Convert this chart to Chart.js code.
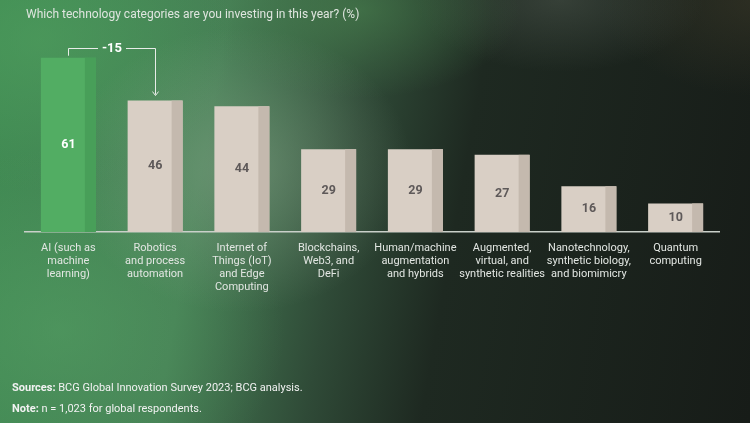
<!DOCTYPE html>
<html>
<head>
<meta charset="utf-8">
<script src="https://cdn.jsdelivr.net/npm/chart.js@4"></script>
<style>
  html, body { margin: 0; padding: 0; }
  #wrap {
    position: relative;
    width: 750px;
    height: 423px;
    overflow: hidden;
    font-family: Roboto, "Noto Sans", sans-serif;
    background:
      radial-gradient(ellipse 230px 190px at 240px 170px, rgba(150, 175, 150, 0.45), rgba(150, 175, 150, 0) 75%),
      radial-gradient(ellipse 300px 240px at 60px 330px, rgba(85, 160, 100, 0.55), rgba(85, 160, 100, 0) 75%),
      radial-gradient(ellipse 260px 200px at 40px 40px, rgba(80, 160, 95, 0.6), rgba(80, 160, 95, 0) 75%),
      radial-gradient(ellipse 200px 110px at 360px 10px, rgba(75, 135, 80, 0.55), rgba(75, 135, 80, 0) 80%),
      radial-gradient(ellipse 180px 90px at 560px 0px, rgba(85, 95, 85, 0.45), rgba(85, 95, 85, 0) 80%),
      radial-gradient(ellipse 200px 120px at 760px 0px, rgba(70, 65, 45, 0.45), rgba(70, 65, 45, 0) 80%),
      linear-gradient(100deg, #3f8a52 0%, #467f55 28%, #2f4a37 46%, #1e2921 60%, #171c18 100%);
  }
  #title {
    position: absolute; left: 26px; top: 7px;
    color: #dfe5df; font-size: 12px;
  }
  .foot {
    position: absolute; left: 12px;
    color: #f2f2f2; font-size: 11px;
  }
  .foot b { font-weight: 700; }
  canvas { position: absolute; left: 0; top: 0; }
</style>
</head>
<body>
<div id="wrap">
  <canvas id="chart" width="750" height="423"></canvas>
  <div id="title">Which technology categories are you investing in this year? (%)</div>
  <div class="foot" style="top:381px"><b>Sources:</b> BCG Global Innovation Survey 2023; BCG analysis.</div>
  <div class="foot" style="top:402px"><b>Note:</b> n = 1,023 for global respondents.</div>
</div>
<script>
const categories = [
  ['AI (such as', 'machine', 'learning)'],
  ['Robotics', 'and process', 'automation'],
  ['Internet of', 'Things (IoT)', 'and Edge', 'Computing'],
  ['Blockchains,', 'Web3, and', 'DeFi'],
  ['Human/machine', 'augmentation', 'and hybrids'],
  ['Augmented,', 'virtual, and', 'synthetic realities'],
  ['Nanotechnology,', 'synthetic biology,', 'and biomimicry'],
  ['Quantum', 'computing']
];
const investing = [61, 46, 44, 29, 29, 27, 16, 10];

const barFill = investing.map((v, i) => i === 0 ? '#52ad63' : '#d9cfc5');
const barSide = investing.map((v, i) => i === 0 ? '#489f59' : '#c4b9ae');
const labelColor = investing.map((v, i) => i === 0 ? '#ffffff' : '#5e5959');

// darker right edge on each bar + value in the middle
const barDecor = {
  id: 'barDecor',
  afterDatasetsDraw(chart) {
    const ctx = chart.ctx;
    const meta = chart.getDatasetMeta(0);
    meta.data.forEach((bar, i) => {
      const right = bar.x + bar.width / 2;
      const side = bar.width * 0.2;
      ctx.fillStyle = barSide[i];
      ctx.fillRect(right - side, bar.y, side, bar.base - bar.y);

      ctx.fillStyle = labelColor[i];
      ctx.font = 'bold 12.5px Roboto, sans-serif';
      ctx.textAlign = 'center';
      ctx.textBaseline = 'middle';
      ctx.fillText(investing[i], bar.x, (bar.y + bar.base) / 2);
    });
  }
};

// bracket showing the drop from the first to the second bar
const gapBracket = {
  id: 'gapBracket',
  afterDraw(chart) {
    const ctx = chart.ctx;
    const meta = chart.getDatasetMeta(0);
    const a = meta.data[0], b = meta.data[1];
    const ax = Math.round(a.x) + 0.5;
    const bx = Math.round(b.x) + 0.5;
    const top = Math.round(a.y - 10) + 0.5;
    const mid = (ax + bx) / 2;
    const gap = 14;

    ctx.save();
    ctx.strokeStyle = '#e8ece8';
    ctx.lineWidth = 1;
    ctx.beginPath();
    ctx.moveTo(ax, a.y - 2);
    ctx.lineTo(ax, top);
    ctx.lineTo(mid - gap, top);
    ctx.moveTo(mid + gap, top);
    ctx.lineTo(bx, top);
    ctx.lineTo(bx, b.y - 6);
    ctx.stroke();
    ctx.beginPath();
    ctx.moveTo(bx - 3, b.y - 9);
    ctx.lineTo(bx, b.y - 5);
    ctx.lineTo(bx + 3, b.y - 9);
    ctx.stroke();

    ctx.fillStyle = '#ffffff';
    ctx.font = 'bold 13px Roboto, sans-serif';
    ctx.textAlign = 'center';
    ctx.textBaseline = 'middle';
    ctx.fillText(String(investing[1] - investing[0]), mid, top);
    ctx.restore();
  }
};

new Chart(document.getElementById('chart').getContext('2d'), {
  type: 'bar',
  data: {
    labels: categories,
    datasets: [{
      data: investing,
      backgroundColor: barFill,
      borderWidth: 0,
      barPercentage: 0.634,
      categoryPercentage: 1
    }]
  },
  options: {
    responsive: false,
    animation: false,
    events: [],
    layout: {
      padding: { left: 25, right: 31, top: 32, bottom: 0 }
    },
    plugins: {
      legend: { display: false },
      tooltip: { enabled: false }
    },
    scales: {
      x: {
        grid: { display: false },
        border: { display: true, color: '#c9d0c9', width: 1.5 },
        ticks: {
          color: '#e2e6e2',
          font: { family: 'Roboto, sans-serif', size: 11, lineHeight: 1.18 },
          padding: 2,
          maxRotation: 0,
          autoSkip: false
        },
        afterFit(scale) { scale.height = 191; }
      },
      y: {
        display: false,
        min: 0,
        max: 70
      }
    }
  },
  plugins: [barDecor, gapBracket]
});
</script>
</body>
</html>
